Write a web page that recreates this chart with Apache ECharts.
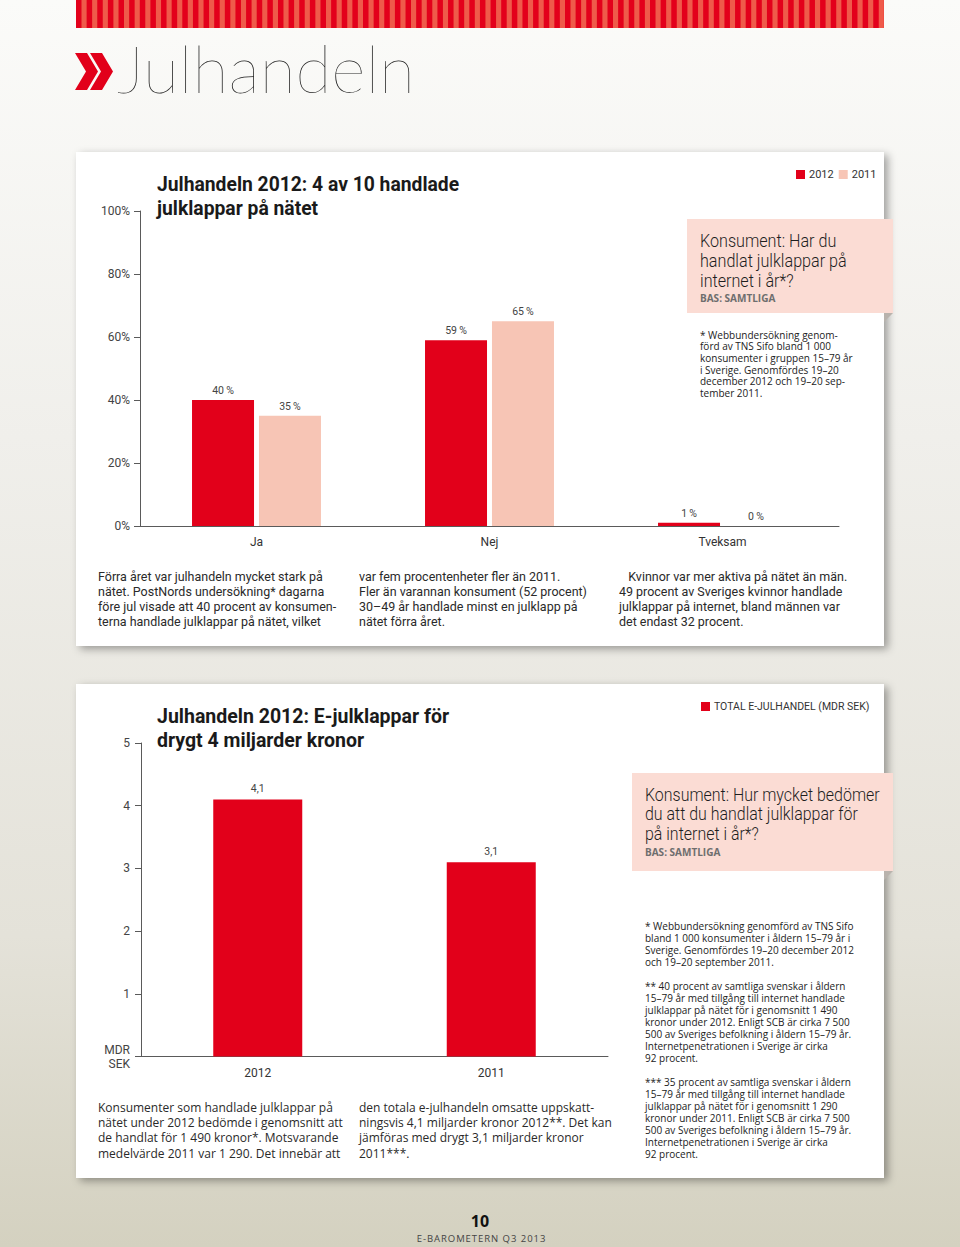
<!DOCTYPE html>
<html>
<head>
<meta charset="utf-8">
<script src="https://cdn.jsdelivr.net/npm/echarts@6/dist/echarts.min.js"></script>
<style>
html,body{margin:0;padding:0;width:960px;height:1247px;overflow:hidden;background:#eeede8;}
#chart{width:960px;height:1247px;}
</style>
</head>
<body>
<div id="chart"></div>
<script>
// ---------- DATA ----------
const categories1 = ['Ja', 'Nej', 'Tveksam'];
const share2012 = [40, 59, 1];
const share2011 = [35, 65, 0];
const seriesNames1 = ['2012', '2011'];

const categories2 = ['2012', '2011'];
const totalSales = [4.1, 3.1];
const seriesName2 = 'TOTAL E-JULHANDEL (MDR SEK)';

// ---------- TEXTS ----------
const pageTitle = 'Julhandeln';
const title1 = 'Julhandeln 2012: 4 av 10 handlade\njulklappar på nätet';
const title2 = 'Julhandeln 2012: E-julklappar för\ndrygt 4 miljarder kronor';
const box1 = 'Konsument: Har du\nhandlat julklappar på\ninternet i år*?';
const box2 = 'Konsument: Hur mycket bedömer\ndu att du handlat julklappar för\npå internet i år*?';
const basText = 'BAS: SAMTLIGA';
const note1 = '* Webbundersökning genom-\nförd av TNS Sifo bland 1 000\nkonsumenter i gruppen 15–79 år\ni Sverige. Genomfördes 19–20\ndecember 2012 och 19–20 sep-\ntember 2011.';
const note2 = '* Webbundersökning genomförd av TNS Sifo\nbland 1 000 konsumenter i åldern 15–79 år i\nSverige. Genomfördes 19–20 december 2012\noch 19–20 september 2011.\n\n** 40 procent av samtliga svenskar i åldern\n15–79 år med tillgång till internet handlade\njulklappar på nätet för i genomsnitt 1 490\nkronor under 2012. Enligt SCB är cirka 7 500\n500 av Sveriges befolkning i åldern 15–79 år.\nInternetpenetrationen i Sverige är cirka\n92 procent.\n\n*** 35 procent av samtliga svenskar i åldern\n15–79 år med tillgång till internet handlade\njulklappar på nätet för i genomsnitt 1 290\nkronor under 2011. Enligt SCB är cirka 7 500\n500 av Sveriges befolkning i åldern 15–79 år.\nInternetpenetrationen i Sverige är cirka\n92 procent.';
const body1 = [
  'Förra året var julhandeln mycket stark på\nnätet. PostNords undersökning* dagarna\nföre jul visade att 40 procent av konsumen-\nterna handlade julklappar på nätet, vilket',
  'var fem procentenheter fler än 2011.\nFler än varannan konsument (52 procent)\n30–49 år handlade minst en julklapp på\nnätet förra året.',
  '   Kvinnor var mer aktiva på nätet än män.\n49 procent av Sveriges kvinnor handlade\njulklappar på internet, bland männen var\ndet endast 32 procent.'
];
const body2 = [
  'Konsumenter som handlade julklappar på\nnätet under 2012 bedömde i genomsnitt att\nde handlat för 1 490 kronor*. Motsvarande\nmedelvärde 2011 var 1 290. Det innebär att',
  'den totala e-julhandeln omsatte uppskatt-\nningsvis 4,1 miljarder kronor 2012**. Det kan\njämföras med drygt 3,1 miljarder kronor\n2011***.'
];
const pageNumber = '10';
const footerText = 'E-BAROMETERN Q3 2013';

// ---------- STYLE ----------
const RED = '#e2001a';
const PINK = '#f7c5b5';
const BOX = '#fbdcd4';
const NARROW = "Roboto, 'Liberation Sans', sans-serif";
const REG = "'Open Sans', 'Noto Sans', sans-serif";

const chart = echarts.init(document.getElementById('chart'), null, {renderer: 'svg', width: 960, height: 1247});

function txt(x, y, text, o, sx) {
  return {
    type: 'text', x: x, y: y, z: 20, silent: true, scaleX: sx || 1,
    style: Object.assign({
      text: text, fill: '#222', fontSize: 12, fontFamily: NARROW,
      verticalAlign: 'top', align: 'left'
    }, o || {})
  };
}

const graphics = [];
// page background
graphics.push({
  type: 'rect', z: -20, silent: true,
  shape: {x: 0, y: 0, width: 960, height: 1247},
  style: {fill: new echarts.graphic.LinearGradient(0, 0, 0, 1, [
    {offset: 0, color: '#fbfbf9'}, {offset: 0.35, color: '#f0efeb'},
    {offset: 0.75, color: '#e4e2d9'}, {offset: 1, color: '#d4d1c0'}
  ])}
});
// top stripe
graphics.push({type: 'rect', z: -19, silent: true, shape: {x: 76, y: 0, width: 808, height: 28}, style: {fill: '#ef5a4a'}});
for (let sx = 76; sx < 884; sx += 10.63) {
  graphics.push({type: 'rect', z: -18, silent: true, shape: {x: sx, y: 0, width: Math.min(5.5, 884 - sx), height: 28}, style: {fill: '#e3001b'}});
}
// chevrons
graphics.push({type: 'polygon', z: 5, silent: true, shape: {points: [[75,53],[87,53],[98,71.5],[87,90],[75,90],[86,71.5]]}, style: {fill: RED}});
graphics.push({type: 'polygon', z: 5, silent: true, shape: {points: [[90,53],[102,53],[113,71.5],[102,90],[90,90],[101,71.5]]}, style: {fill: RED}});
graphics.push(txt(117, 67, pageTitle, {fontSize: 66, fontWeight: 100, fontFamily: "Lato, Inter, 'Open Sans', sans-serif", fill: '#1e1e1e', verticalAlign: 'middle'}));

// panels
[152, 684].forEach(function (py) {
  graphics.push({
    type: 'rect', z: -5, silent: true,
    shape: {x: 76, y: py, width: 808, height: 494},
    style: {fill: '#ffffff', shadowColor: 'rgba(0,0,0,0.35)', shadowBlur: 9, shadowOffsetX: 4, shadowOffsetY: 3}
  });
});
// pink boxes
graphics.push({type: 'rect', z: 1, silent: true, shape: {x: 687, y: 219, width: 206, height: 94}, style: {fill: BOX}});
graphics.push({type: 'polygon', z: 1, silent: true, shape: {points: [[884,313],[893,313],[884,322]]}, style: {fill: '#b9b3ad'}});
graphics.push({type: 'rect', z: 1, silent: true, shape: {x: 632, y: 773, width: 261, height: 98}, style: {fill: BOX}});
graphics.push({type: 'polygon', z: 1, silent: true, shape: {points: [[884,871],[893,871],[884,880]]}, style: {fill: '#b9b3ad'}});

// titles
graphics.push(txt(157, 172, title1, {fontSize: 20, fontWeight: 'bold', lineHeight: 24, fill: '#1a1a1a'}, 0.965));
graphics.push(txt(157, 704, title2, {fontSize: 20, fontWeight: 'bold', lineHeight: 24, fill: '#1a1a1a'}, 0.975));
// box texts
graphics.push(txt(700, 231, box1, {fontSize: 19, fontWeight: 300, lineHeight: 20, fill: '#1e1e1e'}, 0.85));
graphics.push(txt(700, 292.5, basText, {fontSize: 10, fontWeight: 'bold', fontFamily: REG, fill: '#6e6e6e'}));
graphics.push(txt(645, 784, box2, {fontSize: 19, fontWeight: 300, lineHeight: 20, fill: '#1e1e1e'}, 0.84));
graphics.push(txt(645, 846.5, basText, {fontSize: 10, fontWeight: 'bold', fontFamily: REG, fill: '#6e6e6e'}));
// notes
graphics.push(txt(700, 329, note1, {fontSize: 10, lineHeight: 11.6, fontFamily: REG, fill: '#222'}));
graphics.push(txt(645, 920, note2, {fontSize: 10, lineHeight: 12, fontFamily: REG, fill: '#222'}));
// body texts
[98, 359, 619].forEach(function (bx, i) {
  graphics.push(txt(bx, 568.5, body1[i], {fontSize: 13, lineHeight: 15, fill: '#2a2a2a'}, 0.96));
});
[98, 359].forEach(function (bx, i) {
  graphics.push(txt(bx, 1099.5, body2[i], {fontSize: 12, lineHeight: 15.3, fontFamily: REG, fill: '#2a2a2a'}));
});
// footer
graphics.push(txt(480, 1221, pageNumber, {fontSize: 16, fontWeight: 'bold', fontFamily: REG, fill: '#111', align: 'center', verticalAlign: 'middle'}));
graphics.push(txt(481, 1238, footerText.split('').join('\u200a'), {fontSize: 9.5, fontFamily: REG, fill: '#444', align: 'center', verticalAlign: 'middle'}));

const axisLineStyle = {color: '#5a5a5a', width: 1};

const option = {
  animation: false,
  backgroundColor: 'transparent',
  textStyle: {fontFamily: NARROW},
  graphic: {elements: graphics},
  legend: [
    {
      data: seriesNames1, left: 796, top: 169, padding: 0, icon: 'rect', itemWidth: 9, itemHeight: 9, itemGap: 5,
      selectedMode: false, textStyle: {fontSize: 11, color: '#333', fontFamily: NARROW, padding: [0, 0, 0, -1]}
    },
    {
      data: [seriesName2], left: 701, top: 701, padding: 0, icon: 'rect', itemWidth: 9, itemHeight: 9,
      selectedMode: false, textStyle: {fontSize: 10.5, color: '#333', fontFamily: NARROW, padding: [0, 0, 0, -1]}
    }
  ],
  grid: [
    {left: 140, top: 211, width: 699, height: 315, containLabel: false},
    {left: 141, top: 743, width: 467, height: 313.5, containLabel: false}
  ],
  xAxis: [
    {
      gridIndex: 0, type: 'category', data: categories1,
      axisLine: {lineStyle: axisLineStyle}, axisTick: {length: 7, lineStyle: axisLineStyle},
      axisLabel: {fontSize: 12, color: '#333', margin: 10}
    },
    {
      gridIndex: 1, type: 'category', data: categories2,
      axisLine: {lineStyle: axisLineStyle}, axisTick: {length: 7, lineStyle: axisLineStyle},
      axisLabel: {fontSize: 12, color: '#333', margin: 10}
    }
  ],
  yAxis: [
    {
      gridIndex: 0, type: 'value', min: 0, max: 100, interval: 20,
      axisLine: {show: true, lineStyle: axisLineStyle}, axisTick: {show: true, length: 6, lineStyle: axisLineStyle},
      splitLine: {show: false},
      axisLabel: {fontSize: 12, color: '#444', margin: 10, formatter: '{value}%'}
    },
    {
      gridIndex: 1, type: 'value', min: 0, max: 5, interval: 1,
      axisLine: {show: true, lineStyle: axisLineStyle}, axisTick: {show: true, length: 6, lineStyle: axisLineStyle},
      splitLine: {show: false},
      axisLabel: {
        fontSize: 12, color: '#444', margin: 11, lineHeight: 14,
        formatter: function (v) { return v === 0 ? 'MDR\nSEK' : String(v); }
      }
    }
  ],
  series: [
    {
      name: seriesNames1[0], type: 'bar', xAxisIndex: 0, yAxisIndex: 0, data: share2012,
      barWidth: 62, barGap: '8%', itemStyle: {color: RED},
      label: {show: true, position: 'top', distance: 4, fontSize: 10.5, color: '#444', formatter: function (p) { return p.value + '\u2009%'; }}
    },
    {
      name: seriesNames1[1], type: 'bar', xAxisIndex: 0, yAxisIndex: 0, data: share2011,
      barWidth: 62, barGap: '8%', itemStyle: {color: PINK},
      label: {show: true, position: 'top', distance: 4, fontSize: 10.5, color: '#444', formatter: function (p) { return p.value + '\u2009%'; }}
    },
    {
      name: seriesName2, type: 'bar', xAxisIndex: 1, yAxisIndex: 1, data: totalSales,
      barWidth: 89, itemStyle: {color: RED},
      label: {show: true, position: 'top', distance: 5, fontSize: 10.5, color: '#444', formatter: function (p) { return String(p.value).replace('.', ','); }}
    }
  ]
};
chart.setOption(option);
</script>
</body>
</html>
